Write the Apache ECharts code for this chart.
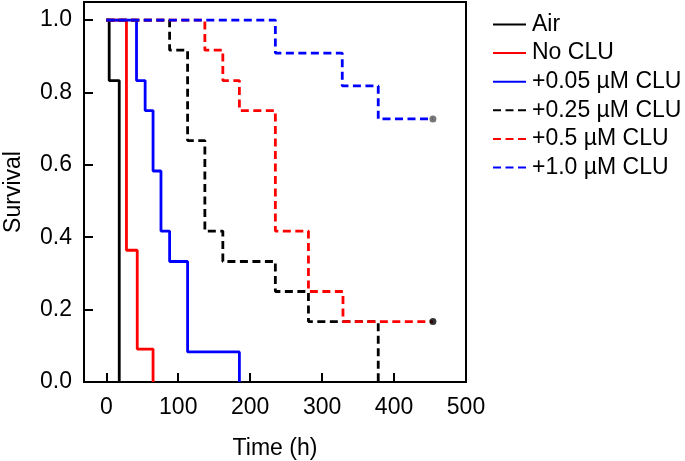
<!DOCTYPE html>
<html>
<head>
<meta charset="utf-8">
<script src="https://cdn.jsdelivr.net/npm/echarts@6/dist/echarts.min.js"></script>
<style>
  html, body { margin: 0; padding: 0; background: #fff; }
  #main { width: 685px; height: 461px; }
</style>
</head>
<body>
<div id="main"></div>
<script>
// survival data (time in h)
const airT = [0, 4, 18];
const airS = [1, 0.833, 0];
const noCluT = [0, 28, 43, 65];
const noCluS = [1, 0.364, 0.091, 0];
const clu005T = [0, 42, 54, 65, 76, 88, 113, 185];
const clu005S = [1, 0.833, 0.75, 0.583, 0.417, 0.333, 0.083, 0];
const clu025T = [0, 88, 113, 137, 162, 235, 281, 378];
const clu025S = [1, 0.917, 0.667, 0.417, 0.333, 0.25, 0.167, 0];
const clu05T = [0, 137, 162, 185, 235, 281, 329, 454];
const clu05S = [1, 0.917, 0.833, 0.75, 0.417, 0.25, 0.167, 0.167];
const clu10T = [0, 235, 328, 378, 454];
const clu10S = [1, 0.909, 0.818, 0.727, 0.727];

const xTicks = [0, 100, 200, 300, 400, 500];
const yTicks = [0, 0.2, 0.4, 0.6, 0.8, 1.0];
const names = ["Air", "No CLU", "+0.05 µM CLU", "+0.25 µM CLU", "+0.5 µM CLU", "+1.0 µM CLU"];

const font = "Liberation Sans, Arial, sans-serif";

function pairs(t, s) {
  let out = [];
  for (let i = 0; i < t.length; i++) out.push([t[i], s[i]]);
  return out;
}

function stepLine(name, t, s, color, dashed) {
  return {
    name: name,
    type: "line",
    step: "end",
    symbol: "none",
    data: pairs(t, s),
    lineStyle: { color: color, width: 2.8, type: dashed ? [8, 4.5] : "solid" },
    itemStyle: { color: color },
    animation: false,
  };
}

let myChart = echarts.init(document.getElementById("main"));
myChart.setOption({
  animation: false,
  grid: {
    left: 84,
    right: 219,
    top: 2,
    bottom: 79,
    outerBoundsMode: "none",
    show: true,
    borderColor: "#000",
    borderWidth: 2,
  },
  legend: {
    orient: "vertical",
    left: 487,
    top: 8,
    itemWidth: 33,
    itemHeight: 14,
    itemGap: 5.6,
    data: names,
    itemStyle: { opacity: 0 },
    textStyle: { color: "#000", fontSize: 23, fontFamily: font, padding: [0, 0, 0, 1] },
  },
  xAxis: {
    type: "value",
    min: -31,
    max: 500,
    name: "Time (h)",
    nameLocation: "middle",
    nameGap: 55,
    nameTextStyle: { color: "#000", fontSize: 23, fontFamily: font },
    splitLine: { show: false },
    axisLine: { show: true, onZero: false, lineStyle: { color: "#000", width: 2 } },
    axisTick: { show: true, inside: true, length: 9, customValues: xTicks, lineStyle: { color: "#000", width: 2 } },
    axisLabel: { customValues: xTicks, margin: 14, color: "#000", fontSize: 23, fontFamily: font },
  },
  yAxis: {
    type: "value",
    min: 0,
    max: 1.05,
    name: "Survival",
    nameLocation: "middle",
    nameGap: 59,
    nameTextStyle: { color: "#000", fontSize: 23, fontFamily: font },
    splitLine: { show: false },
    axisLine: { show: true, onZero: false, lineStyle: { color: "#000", width: 2 } },
    axisTick: { show: true, inside: true, length: 9, customValues: yTicks, lineStyle: { color: "#000", width: 2 } },
    axisLabel: {
      customValues: yTicks,
      margin: 12,
      color: "#000",
      fontSize: 23,
      fontFamily: font,
      formatter: (v) => v.toFixed(1),
    },
  },
  series: [
    stepLine(names[0], airT, airS, "#000000", false),
    stepLine(names[1], noCluT, noCluS, "#ff0000", false),
    stepLine(names[2], clu005T, clu005S, "#0000ff", false),
    stepLine(names[3], clu025T, clu025S, "#000000", true),
    stepLine(names[4], clu05T, clu05S, "#ff0000", true),
    stepLine(names[5], clu10T, clu10S, "#0000ff", true),
    {
      // censored end points
      type: "scatter",
      symbolSize: 7,
      data: [
        { value: [clu05T[clu05T.length - 1], clu05S[clu05S.length - 1]], itemStyle: { color: "#000" } },
        { value: [clu10T[clu10T.length - 1], clu10S[clu10S.length - 1]], itemStyle: { color: "#555" } },
      ],
      z: 3,
    },
  ],
});
</script>
</body>
</html>
